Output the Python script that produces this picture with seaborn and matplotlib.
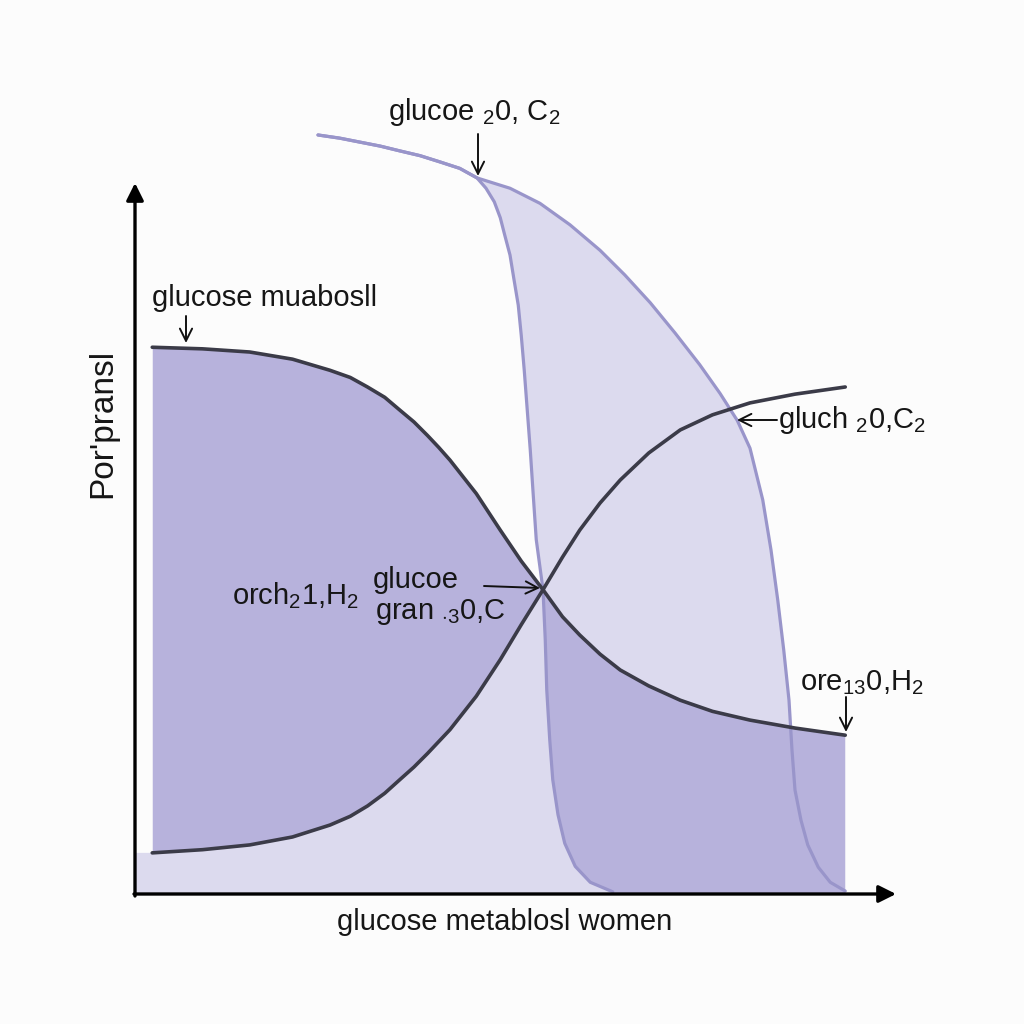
import numpy as np
import pandas as pd
import matplotlib
matplotlib.use("Agg")
import matplotlib.pyplot as plt
import seaborn as sns

# ---- data (x: 0-100, y: 0-100) ----
A_x = [2.3, 9.0, 15.3, 21.0, 26.0, 28.7, 31.0, 33.3, 35.3, 37.2, 39.0, 40.5, 42.0, 45.5, 48.7, 51.5, 54.4,
       57.0, 59.3, 62.0, 64.7, 68.5, 72.7, 77.0, 82.0, 88.0, 94.7]
A_y = [68.9, 68.7, 68.3, 67.4, 66.0, 65.1, 63.9, 62.6, 61.0, 59.5, 57.8, 56.3, 54.7, 50.5, 45.9, 42.0, 38.4,
       35.0, 32.7, 30.3, 28.3, 26.3, 24.5, 23.1, 22.0, 21.0, 20.1]
B_y = [5.3, 5.7, 6.3, 7.3, 8.8, 9.9, 11.2, 12.8, 14.5, 16.1, 17.8, 19.3, 20.8, 25.0, 29.6, 34.0, 38.4,
       42.5, 45.9, 49.3, 52.2, 55.6, 58.5, 60.4, 61.9, 63.0, 63.9]
CROSS = 16  # index where A and B meet

top_x = [24.4, 27.3, 30.0, 32.7, 35.3, 38.0, 40.7, 43.3, 45.6]
top_y = [95.6, 95.2, 94.7, 94.2, 93.6, 93.0, 92.2, 91.4, 90.2]
C_x = [46.8, 47.9, 48.7, 49.3, 50.0, 50.5, 51.1, 51.5, 51.9, 52.3, 52.7, 53.1, 53.5, 54.4,
       54.7, 54.9, 55.3, 55.7, 56.4, 57.3, 58.7, 60.7, 63.7]
C_y = [88.9, 87.2, 85.2, 83.0, 80.5, 77.6, 74.2, 70.4, 66.0, 61.0, 56.0, 50.3, 44.7, 38.4,
       32.1, 25.8, 19.5, 14.5, 10.1, 6.5, 3.6, 1.6, 0.4]
C_CROSS = 13
D_x = [50.0, 54.0, 58.0, 62.0, 65.3, 68.7, 72.0, 75.3, 78.0, 80.3, 82.0, 83.7, 84.8, 85.7,
       86.5, 87.2, 87.6, 88.0, 88.8, 89.7, 91.1, 92.7, 94.7]
D_y = [88.9, 87.0, 84.3, 81.1, 78.0, 74.5, 70.7, 66.7, 63.1, 59.7, 56.2, 49.7, 43.4, 37.1,
       30.8, 24.5, 18.2, 13.2, 9.4, 6.3, 3.5, 1.6, 0.5]

# ---- style ----
sns.set_theme(style="white")
plt.rcParams["font.family"] = ["Liberation Sans", "DejaVu Sans"]
plt.rcParams["mathtext.fontset"] = "custom"
plt.rcParams["mathtext.rm"] = "Liberation Sans"
plt.rcParams["mathtext.it"] = "Liberation Sans:italic"

LIGHT = "#dcdaee"
MED = "#b7b2dc"
PURPLE = "#9995ca"
DARK = "#3b3b48"

fig = plt.figure(figsize=(10.24, 10.24), dpi=100)
fig.patch.set_facecolor("#fcfcfc")
ax = fig.add_axes([135 / 1024, (1024 - 895) / 1024, 750 / 1024, 795 / 1024])
ax.set_xlim(0, 100)
ax.set_ylim(0, 100)
ax.set_facecolor("none")
ax.axis("off")

Ax, Ay, By = np.array(A_x), np.array(A_y), np.array(B_y)
Cx, Cy = np.array(C_x), np.array(C_y)
Dx, Dy = np.array(D_x), np.array(D_y)

# light region
lx = np.concatenate([[0, 0], Ax[:CROSS + 1], Cx[:C_CROSS][::-1], [top_x[-1]], Dx, [Dx[-1], 0]])
ly = np.concatenate([[0, By[0]], By[:CROSS + 1], Cy[:C_CROSS][::-1], [top_y[-1]], Dy, [0, 0]])
ax.fill(lx, ly, color=LIGHT, lw=0, zorder=1)

# medium regions
ax.fill_between(Ax[:CROSS + 1], By[:CROSS + 1], Ay[:CROSS + 1], color=MED, lw=0, zorder=2)
mx = np.concatenate([Ax[CROSS:], [Ax[-1], Cx[-1]], Cx[C_CROSS:][::-1]])
my = np.concatenate([Ay[CROSS:], [0, 0], Cy[C_CROSS:][::-1]])
ax.fill(mx, my, color=MED, lw=0, zorder=2)

# purple curves
cdf = pd.DataFrame({"x": top_x + C_x, "y": top_y + C_y})
ddf = pd.DataFrame({"x": top_x + D_x, "y": top_y + D_y})
sns.lineplot(data=cdf, x="x", y="y", sort=False, estimator=None, color=PURPLE, lw=2.3, ax=ax, zorder=3)
sns.lineplot(data=ddf, x="x", y="y", sort=False, estimator=None, color=PURPLE, lw=2.3, ax=ax, zorder=3)
for l in ax.lines:
    l.set_clip_on(False)
    l.set_solid_joinstyle("round")

# dark curves
sns.lineplot(x=A_x, y=A_y, sort=False, estimator=None, color=DARK, lw=2.6, ax=ax, zorder=4)
sns.lineplot(x=A_x, y=B_y, sort=False, estimator=None, color=DARK, lw=2.6, ax=ax, zorder=4)
for l in ax.lines:
    l.set_solid_joinstyle("round")
ax.set_xlabel("")
ax.set_ylabel("")

# axes arrows
def P(x, y):
    return (x, 1024 - y)

ax_arrow = dict(arrowstyle="-|>", lw=2.4, color="black", mutation_scale=26, shrinkA=0, shrinkB=0)
ax.annotate("", xy=P(135, 183), xytext=P(135, 896), xycoords="figure pixels",
            textcoords="figure pixels", arrowprops=ax_arrow, zorder=6, annotation_clip=False)
ax.annotate("", xy=P(896, 894), xytext=P(134, 894), xycoords="figure pixels",
            textcoords="figure pixels", arrowprops=ax_arrow, zorder=6, annotation_clip=False)

# pointer arrows
pa = dict(arrowstyle="->", lw=1.4, color="#111111", mutation_scale=22, shrinkA=0, shrinkB=0)
def pointer(x0, y0, x1, y1):
    ax.annotate("", xy=P(x1, y1), xytext=P(x0, y0), xycoords="figure pixels",
                textcoords="figure pixels", arrowprops=pa, zorder=7, annotation_clip=False)

pointer(478, 134, 478, 176)
pointer(186, 316, 186, 343)
pointer(777, 420, 737, 420)
pointer(484, 586, 540, 588)
pointer(846, 697, 846, 732)

FS = 21
def label(x, y, s, **kw):
    fig.text(x / 1024, 1 - y / 1024, s, fontsize=FS, color="#161616", va="center", ha="left", **kw)

label(388, 112, r"glucoe ${}_2$0, C$_2$")
label(152, 298, "glucose muabosll")
label(778, 420, r"gluch ${}_2$0,C$_2$")
label(232, 596, r"orch${}_2$1,H$_2$")
label(373, 580, "glucoe")
label(375, 612, r"gran ${}_{\cdot 3}$0,C")
label(800, 683, r"ore${}_{13}$0,H$_2$")

fig.text(103 / 1024, 1 - 423 / 1024, "Por'pransl", fontsize=24, color="#161616",
         rotation=90, ha="center", va="center")
fig.text(505 / 1024, 1 - 922 / 1024, "glucose metablosl women", fontsize=21, color="#161616",
         ha="center", va="center")

fig.savefig("out.png", dpi=100, facecolor=fig.get_facecolor())
